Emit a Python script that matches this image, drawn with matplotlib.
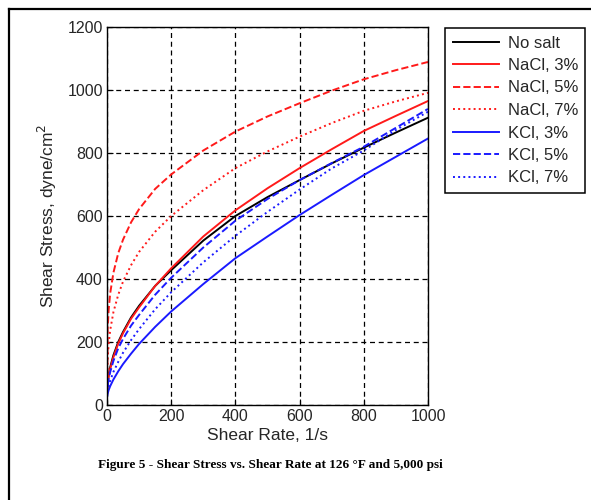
import numpy as np
import matplotlib
matplotlib.use("Agg")
import matplotlib.pyplot as plt
from matplotlib.lines import Line2D

plt.rcParams['font.family'] = ['Liberation Sans', 'DejaVu Sans']

# taxa de cisalhamento (1/s) e tensoes (dyne/cm2)
shear_rate = [0, 2, 5, 10, 20, 35, 50, 75, 100, 150, 200, 300, 400, 500, 600, 700, 800, 900, 1000]
no_salt = [30, 70, 95, 120, 158, 200, 232, 278, 315, 378, 428, 522, 600, 660, 714, 767, 817, 865, 912]
nacl_3 = [30, 66, 90, 115, 152, 195, 228, 274, 310, 378, 434, 535, 618, 688, 752, 812, 870, 918, 965]
nacl_5 = [30, 240, 300, 355, 420, 482, 525, 580, 622, 686, 732, 808, 868, 916, 958, 998, 1034, 1063, 1089]
nacl_7 = [30, 145, 192, 238, 295, 350, 392, 444, 486, 550, 600, 682, 752, 805, 852, 895, 934, 964, 991]
kcl_3 = [25, 36, 47, 60, 81, 107, 130, 163, 194, 248, 297, 384, 466, 535, 603, 667, 730, 788, 846]
kcl_5 = [30, 60, 82, 105, 140, 180, 210, 252, 286, 350, 404, 500, 585, 654, 714, 768, 820, 880, 940]
kcl_7 = [25, 44, 59, 77, 105, 137, 166, 206, 241, 304, 358, 453, 537, 613, 684, 751, 808, 873, 931]

series = [
    ("No salt", no_salt, "black", "-"),
    ("NaCl, 3%", nacl_3, "#ff1a1a", "-"),
    ("NaCl, 5%", nacl_5, "#ff1a1a", "--"),
    ("NaCl, 7%", nacl_7, "#ff1a1a", ":"),
    ("KCl, 3%", kcl_3, "#1a1aff", "-"),
    ("KCl, 5%", kcl_5, "#1a1aff", "--"),
    ("KCl, 7%", kcl_7, "#1a1aff", ":"),
]

W, H = 591, 500
fig = plt.figure(figsize=(W / 100, H / 100), dpi=100)

# moldura da figura: topo e lado esquerdo
fig.lines.append(Line2D([9 / W, 1.0], [1 - 8.5 / H, 1 - 8.5 / H], transform=fig.transFigure,
                        color='black', lw=1.6))
fig.lines.append(Line2D([9 / W, 9 / W], [0.0, 1 - 8.5 / H], transform=fig.transFigure,
                        color='black', lw=1.6))

ax = fig.add_axes([107 / W, 1 - 405 / H, 321 / W, 378 / H])
for label, vals, cor, ls in series:
    ax.plot(shear_rate, vals, color=cor, linestyle=ls, lw=1.4, label=label)

ax.set_xlim(0, 1000)
ax.set_ylim(0, 1200)
ax.set_xticks(np.arange(0, 1001, 200))
ax.set_yticks(np.arange(0, 1201, 200))
ax.grid(True, color='black', linestyle=(0, (4, 3)), lw=0.9)
ax.tick_params(direction='in', length=4, labelsize=11.5, labelcolor='#262626', pad=3)
for s in ax.spines.values():
    s.set_linewidth(1.0)

ax.set_xlabel('Shear Rate, 1/s', fontsize=12.5, color='#262626', labelpad=3)
ax.set_ylabel('Shear Stress, dyne/cm$^2$', fontsize=12.5, color='#262626', labelpad=6)

leg = ax.legend(loc='upper left', bbox_to_anchor=(445 / W, 1 - 28 / H), bbox_transform=fig.transFigure,
                fontsize=12, frameon=True, fancybox=False, edgecolor='black', framealpha=1,
                borderaxespad=0, handlelength=2.8, handletextpad=0.5, labelspacing=0.45,
                borderpad=0.45)
leg.get_frame().set_linewidth(1.1)
for t in leg.get_texts():
    t.set_color('#262626')

fig.text(270 / W, 1 - 465 / H, 'Figure 5 - Shear Stress vs. Shear Rate at 126 \u00b0F and 5,000 psi',
         ha='center', va='center', fontsize=9.5, fontweight='bold', family=['Liberation Serif', 'DejaVu Serif'])

fig.savefig('out.png', dpi=100, facecolor='white')
